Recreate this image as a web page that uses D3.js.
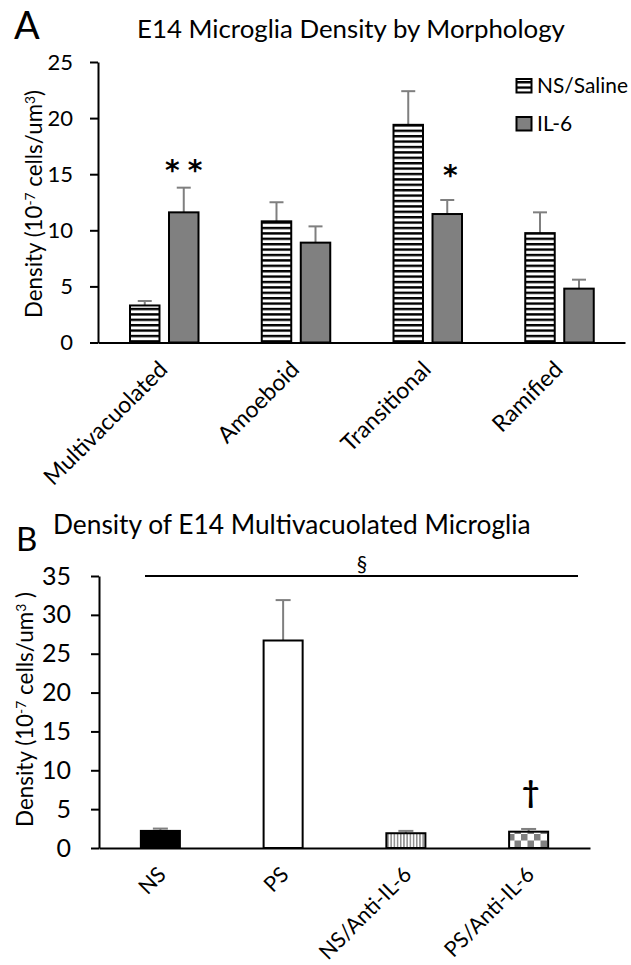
<!DOCTYPE html>
<html><head><meta charset="utf-8">
<script src="https://cdn.jsdelivr.net/npm/d3@7"></script>
<style>
body{margin:0;background:#fff}
svg{display:block}
text{fill:#000}
</style>
</head><body>
<svg id="c" width="631" height="965" style="font-family:Lato,'Open Sans',sans-serif"></svg>
<script>
// ---------- Data: panel A ----------
const morphCategories = ["Multivacuolated", "Amoeboid", "Transitional", "Ramified"];
const seriesNames = ["NS/Saline", "IL-6"];
const nsSalineValues = [3.3, 10.8, 19.4, 9.75];
const nsSalineErrors = [0.4, 1.7, 3.0, 1.85];
const il6Values = [11.6, 8.9, 11.45, 4.8];
const il6Errors = [2.2, 1.45, 1.25, 0.8];
const ticksA = [0, 5, 10, 15, 20, 25];
const sigA = [{cat: "Multivacuolated", series: "IL-6", mark: "**"}, {cat: "Transitional", series: "IL-6", mark: "*"}];

// ---------- Data: panel B ----------
const groupsB = ["NS", "PS", "NS/Anti-IL-6", "PS/Anti-IL-6"];
const valuesB = [2.2, 26.7, 1.9, 2.1];
const errorsB = [0.3, 5.2, 0.3, 0.35];
const ticksB = [0, 5, 10, 15, 20, 25, 30, 35];

// ---------- Styles ----------
const FONT = "Lato, 'Open Sans', sans-serif";
const seriesFill = {"NS/Saline": "url(#hs)", "IL-6": "#808080"};
const fillB = ["#000000", "#ffffff", "url(#vs)", "url(#ck)"];
const errColor = "#7f7f7f";

const svg = d3.select("#c");
const defs = svg.append("defs");
const hs = defs.append("pattern").attr("id", "hs").attr("patternUnits", "userSpaceOnUse").attr("width", 8).attr("height", 5.4);
hs.append("rect").attr("width", 8).attr("height", 5.4).attr("fill", "#fff");
hs.append("rect").attr("width", 8).attr("height", 2.4).attr("fill", "#000");
const vs = defs.append("pattern").attr("id", "vs").attr("patternUnits", "userSpaceOnUse").attr("width", 3.2).attr("height", 10);
vs.append("rect").attr("width", 3.2).attr("height", 10).attr("fill", "#fff");
vs.append("rect").attr("width", 1.5).attr("height", 10).attr("fill", "#8c8c8c");
const ck = defs.append("pattern").attr("id", "ck").attr("patternUnits", "userSpaceOnUse").attr("width", 13).attr("height", 13).attr("x", 1).attr("y", 2);
ck.append("rect").attr("width", 13).attr("height", 13).attr("fill", "#fff");
ck.append("rect").attr("width", 6.5).attr("height", 6.5).attr("fill", "#808080");
ck.append("rect").attr("x", 6.5).attr("y", 6.5).attr("width", 6.5).attr("height", 6.5).attr("fill", "#808080");

function fit(sel, w) {
  const n = sel.node();
  const cur = n.getComputedTextLength();
  const fs = parseFloat(sel.attr("font-size"));
  sel.attr("font-size", fs * w / cur);
}
function yLabel(g, tail) {
  const t = g.append("text").attr("text-anchor", "middle").attr("font-size", 18).style("font-family", FONT);
  t.append("tspan").text("Density (10");
  t.append("tspan").attr("dy", -7).attr("font-size", "0.62em").text("-7");
  t.append("tspan").attr("dy", 7).text(" cells/um");
  t.append("tspan").attr("dy", -7).attr("font-size", "0.62em").text("3");
  t.append("tspan").attr("dy", 7).text(tail);
  return t;
}

// ================= Panel A =================
const yA = d3.scaleLinear().domain([0, 25]).range([342.5, 62]);
const xA = d3.scaleBand().domain(morphCategories).range([98, 625]);
const xSub = d3.scaleBand().domain(seriesNames).range([32, 100.5]).paddingInner(0.244);

const rowsA = [];
morphCategories.forEach((c, i) => {
  rowsA.push({cat: c, series: "NS/Saline", v: nsSalineValues[i], e: nsSalineErrors[i]});
  rowsA.push({cat: c, series: "IL-6", v: il6Values[i], e: il6Errors[i]});
});
const gA = svg.append("g");
gA.selectAll("g.err").data(rowsA).join("g").attr("class", "err").each(function(d) {
  const cx = xA(d.cat) + xSub(d.series) + xSub.bandwidth() / 2;
  const g = d3.select(this);
  g.append("line").attr("x1", cx).attr("x2", cx).attr("y1", yA(d.v)).attr("y2", yA(d.v + d.e)).attr("stroke", errColor).attr("stroke-width", 2);
  g.append("line").attr("x1", cx - 7).attr("x2", cx + 7).attr("y1", yA(d.v + d.e)).attr("y2", yA(d.v + d.e)).attr("stroke", errColor).attr("stroke-width", 2);
});
gA.selectAll("rect.bar").data(rowsA).join("rect").attr("class", "bar")
  .attr("x", d => xA(d.cat) + xSub(d.series))
  .attr("width", xSub.bandwidth())
  .attr("y", d => yA(d.v))
  .attr("height", d => yA(0) - yA(d.v))
  .attr("fill", d => seriesFill[d.series])
  .attr("stroke", "#000").attr("stroke-width", 2);

const axA = svg.append("g").attr("transform", "translate(98,0)")
  .call(d3.axisLeft(yA).tickValues(ticksA).tickSize(8).tickPadding(17).tickSizeOuter(0));
axA.selectAll("path,line").attr("stroke", "#000").attr("stroke-width", 2);
axA.attr("font-family", FONT).attr("font-size", 22);
axA.selectAll("text").attr("fill", "#000");
const axAx = svg.append("g").attr("transform", `translate(0,${yA(0)})`)
  .call(d3.axisBottom(xA).tickSize(0).tickSizeOuter(0));
axAx.select("path").attr("stroke", "#000").attr("stroke-width", 2);
axAx.selectAll(".tick text").remove();
svg.append("g").selectAll("text").data(morphCategories).join("text")
  .attr("transform", d => `translate(${xA(d) + xA.bandwidth() / 2 + 5},371) rotate(-45)`)
  .attr("text-anchor", "end").attr("font-size", 23).text(d => d);

svg.append("g").selectAll("text").data(sigA).join("text")
  .attr("x", d => xA(d.cat) + xSub(d.series) + xSub.bandwidth() / 2 + (d.mark.length > 1 ? 4 : 3))
  .attr("y", d => d.mark.length > 1 ? 180 : 184.5)
  .attr("text-anchor", "middle").attr("font-size", 28).attr("font-weight", "bold")
  .style("font-family", "'DejaVu Sans'")
  .attr("letter-spacing", d => d.mark.length > 1 ? 8 : 0)
  .text(d => d.mark);

const lg = svg.append("g");
seriesNames.forEach((s, i) => {
  lg.append("rect").attr("x", 516.5).attr("y", 79 + i * 38).attr("width", 15).attr("height", 13.5)
    .attr("fill", seriesFill[s]).attr("stroke", "#000").attr("stroke-width", 2);
  const t = lg.append("text").attr("x", 537).attr("y", 93 + i * 38).attr("font-size", 21).text(s);
  if (i === 0) fit(t, 91);
});

svg.append("text").attr("x", 14).attr("y", 39).attr("font-size", 38).text("A");
const tA = svg.append("text").attr("x", 137).attr("y", 38).attr("font-size", 22).text("E14 Microglia Density by Morphology");
fit(tA, 428);
const ylA = yLabel(svg.append("g").attr("transform", "translate(42,204) rotate(-90)"), ")");
fit(ylA, 228);

// ================= Panel B =================
const yB = d3.scaleLinear().domain([0, 35]).range([848, 576]);
const xB = d3.scaleBand().domain(groupsB).range([99, 590]);
const barWB = xB.bandwidth() * 0.318;
const rowsB = groupsB.map((g, i) => ({g, v: valuesB[i], e: errorsB[i], fill: fillB[i]}));
const gB = svg.append("g");
gB.selectAll("g.err").data(rowsB).join("g").attr("class", "err").each(function(d) {
  const cx = xB(d.g) + xB.bandwidth() / 2;
  const g = d3.select(this);
  g.append("line").attr("x1", cx).attr("x2", cx).attr("y1", yB(d.v)).attr("y2", yB(d.v + d.e)).attr("stroke", errColor).attr("stroke-width", 2);
  g.append("line").attr("x1", cx - 7.5).attr("x2", cx + 7.5).attr("y1", yB(d.v + d.e)).attr("y2", yB(d.v + d.e)).attr("stroke", errColor).attr("stroke-width", 2);
});
gB.selectAll("rect.bar").data(rowsB).join("rect").attr("class", "bar")
  .attr("x", d => xB(d.g) + (xB.bandwidth() - barWB) / 2)
  .attr("width", barWB)
  .attr("y", d => yB(d.v))
  .attr("height", d => yB(0) - yB(d.v))
  .attr("fill", d => d.fill)
  .attr("stroke", "#000").attr("stroke-width", 2);

const axB = svg.append("g").attr("transform", "translate(99,0)")
  .call(d3.axisLeft(yB).tickValues(ticksB).tickSize(8).tickPadding(20).tickSizeOuter(0));
axB.selectAll("path,line").attr("stroke", "#000").attr("stroke-width", 2);
axB.attr("font-family", FONT).attr("font-size", 25);
axB.selectAll("text").attr("fill", "#000");
const axBx = svg.append("g").attr("transform", `translate(0,${yB(0)})`)
  .call(d3.axisBottom(xB).tickSize(0).tickSizeOuter(0));
axBx.select("path").attr("stroke", "#000").attr("stroke-width", 2);
axBx.selectAll(".tick text").remove();
svg.append("g").selectAll("text").data(groupsB).join("text")
  .attr("transform", d => `translate(${xB(d) + xB.bandwidth() / 2 + 7},876) rotate(-45)`)
  .attr("text-anchor", "end").attr("font-size", 21.5).text(d => d);

svg.append("line").attr("x1", 145).attr("x2", 578).attr("y1", yB(35)).attr("y2", yB(35)).attr("stroke", "#000").attr("stroke-width", 2);
svg.append("text").attr("x", 362).attr("y", 571).attr("text-anchor", "middle").attr("font-size", 21).text("§");
svg.append("text").attr("x", xB("PS/Anti-IL-6") + xB.bandwidth() / 2 + 2).attr("y", 803).attr("text-anchor", "middle").attr("font-size", 30).attr("font-weight", "bold").text("†");

svg.append("text").attr("x", 16).attr("y", 551).attr("font-size", 33).text("B");
const tB = svg.append("text").attr("x", 53).attr("y", 534).attr("font-size", 24).text("Density of E14 Multivacuolated Microglia");
fit(tB, 478);
const ylB = yLabel(svg.append("g").attr("transform", "translate(33,709.5) rotate(-90)"), " )");
fit(ylB, 235);
</script>
</body></html>
